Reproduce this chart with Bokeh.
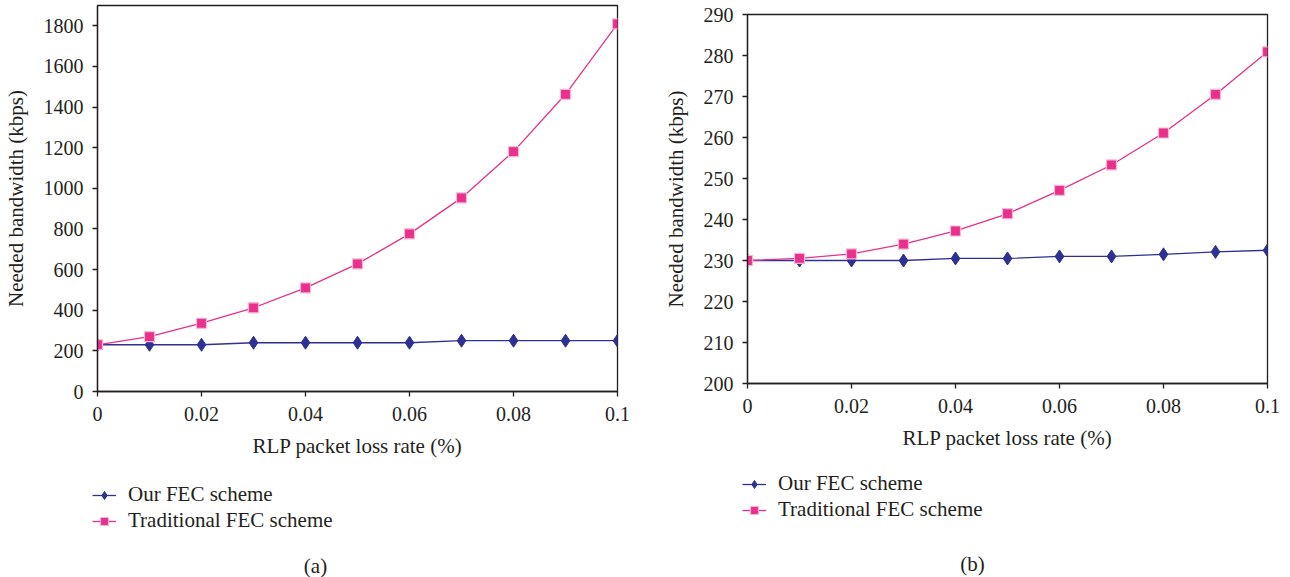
from bokeh.plotting import figure
from bokeh.layouts import row, column
from bokeh.models import Range1d, FixedTicker, Legend, LegendItem, Label
from bokeh.embed import file_html
from bokeh.resources import INLINE

# ---------------- data ----------------
loss_rate = [0, 0.01, 0.02, 0.03, 0.04, 0.05, 0.06, 0.07, 0.08, 0.09, 0.1]

a_our_fec = [230, 230, 230, 240, 240, 240, 240, 250, 250, 250, 250]
a_traditional_fec = [230, 270, 336, 412, 510, 628, 776, 953, 1181, 1463, 1810]

b_our_fec = [230, 230, 230, 230, 230.5, 230.5, 231, 231, 231.5, 232.1, 232.5]
b_traditional_fec = [230, 230.5, 231.6, 234.0, 237.2, 241.4, 247.1, 253.3, 261.1, 270.5, 280.9]

x_ticks = [0, 0.02, 0.04, 0.06, 0.08, 0.1]
x_tick_labels = ["0", "0.02", "0.04", "0.06", "0.08", "0.1"]
a_y_ticks = [0, 200, 400, 600, 800, 1000, 1200, 1400, 1600, 1800]
b_y_ticks = [200, 210, 220, 230, 240, 250, 260, 270, 280, 290]

series_names = ["Our FEC scheme", "Traditional FEC scheme"]
x_label = "RLP packet loss rate (%)"
y_label = "Needed bandwidth (kbps)"
captions = ["(a)", "(b)"]

FONT = "Liberation Serif"
TXT = "#231F20"
NAVY = "#2E3192"
PINK = "#E8308C"
SQ_EDGE = "#F7B5D6"

TOP_H = 465          # height of the two chart panels
BOT_H = 577 - TOP_H  # height of the legend / caption strip


def no_align(p):
    try:
        p.frame_align = False
    except Exception:
        pass


def add_series(p, our, trad):
    l1 = p.line(loss_rate, our, line_color=NAVY, line_width=1.3)
    s1 = p.scatter(loss_rate, our, marker="diamond", size=13,
                   fill_color=NAVY, line_color=NAVY, line_width=1)
    l2 = p.line(loss_rate, trad, line_color=PINK, line_width=1.3)
    s2 = p.scatter(loss_rate, trad, marker="square", size=10,
                   fill_color=PINK, line_color=SQ_EDGE, line_width=1.2)
    return l1, s1, l2, s2


def make_panel(our, trad, y_ticks, y_range, b_left, b_right, b_top, b_bottom, width):
    p = figure(width=width, height=TOP_H,
               x_range=Range1d(0, 0.1), y_range=Range1d(*y_range),
               output_backend="svg", toolbar_location=None, title_location=None,
               min_border_left=b_left, min_border_right=b_right,
               min_border_top=b_top, min_border_bottom=b_bottom,
               background_fill_color="white", border_fill_color="white")
    no_align(p)
    p.grid.visible = False
    p.outline_line_color = TXT
    p.outline_line_width = 1.3
    p.outline_line_alpha = 1.0

    for ax in (p.xaxis[0], p.yaxis[0]):
        ax.axis_line_color = TXT
        ax.axis_line_width = 1.3
        ax.major_tick_line_color = TXT
        ax.major_tick_line_width = 1.3
        ax.major_tick_out = 5
        ax.major_tick_in = 0
        ax.minor_tick_line_color = None
        ax.major_label_text_font = FONT
        ax.major_label_text_font_size = "20px"
        ax.major_label_text_color = TXT
        ax.axis_label_text_font = FONT
        ax.axis_label_text_font_size = "21px"
        ax.axis_label_text_font_style = "normal"
        ax.axis_label_text_color = TXT

    p.xaxis.ticker = FixedTicker(ticks=x_ticks)
    p.xaxis.major_label_overrides = dict(zip(x_ticks, x_tick_labels))
    p.xaxis.axis_label = x_label
    p.xaxis.major_label_standoff = 10
    p.xaxis.axis_label_standoff = 10

    p.yaxis.ticker = FixedTicker(ticks=y_ticks)
    p.yaxis.major_label_overrides = {t: str(t) for t in y_ticks}
    p.yaxis.axis_label = y_label
    p.yaxis.major_label_standoff = 9
    p.yaxis.axis_label_standoff = 13

    add_series(p, our, trad)
    return p


pa = make_panel(a_our_fec, a_traditional_fec, a_y_ticks, (0, 1900),
                b_left=96, b_right=28, b_top=5, b_bottom=TOP_H - 391, width=645)
pb = make_panel(b_our_fec, b_traditional_fec, b_y_ticks, (200, 290),
                b_left=102, b_right=23, b_top=14, b_bottom=TOP_H - 383, width=645)

# ---- legend / caption strip (coordinates = page pixels, y measured up from page bottom) ----
lab = figure(width=1290, height=BOT_H,
             x_range=Range1d(0, 1290), y_range=Range1d(577 - TOP_H - BOT_H, 577 - TOP_H),
             x_axis_location=None, y_axis_location=None,
             output_backend="svg", toolbar_location=None, title_location=None,
             min_border=0, min_border_left=0, min_border_right=0,
             min_border_top=0, min_border_bottom=0,
             background_fill_color="white", border_fill_color="white")
no_align(lab)
lab.grid.visible = False
lab.outline_line_color = None


def strip_legend(our, trad, loc):
    rs = add_series(lab, our, trad)
    for r in rs:
        r.visible = False  # only used as legend samples
    lg = Legend(items=[LegendItem(label=series_names[0], renderers=[rs[0], rs[1]]),
                       LegendItem(label=series_names[1], renderers=[rs[2], rs[3]])],
                location=loc, orientation="vertical",
                padding=0, margin=0, spacing=1,
                glyph_width=24, glyph_height=20, label_height=20,
                label_standoff=12,
                label_text_font=FONT, label_text_font_size="21px",
                label_text_color=TXT,
                inactive_fill_alpha=0,
                border_line_color=None, background_fill_alpha=0)
    lab.add_layout(lg)


strip_legend(a_our_fec, a_traditional_fec, (92, 577 - 533))
strip_legend(b_our_fec, b_traditional_fec, (742, 577 - 522))

for cx, cy, txt in [(315, 577 - 565, captions[0]), (972, 577 - 563, captions[1])]:
    lab.add_layout(Label(x=cx, y=cy, text=txt, text_font=FONT, text_font_size="21px",
                         text_color=TXT, text_align="center", text_baseline="middle"))

layout = column(row(pa, pb, spacing=0), lab, spacing=0)
open("out.html", "w").write(file_html(layout, INLINE))
